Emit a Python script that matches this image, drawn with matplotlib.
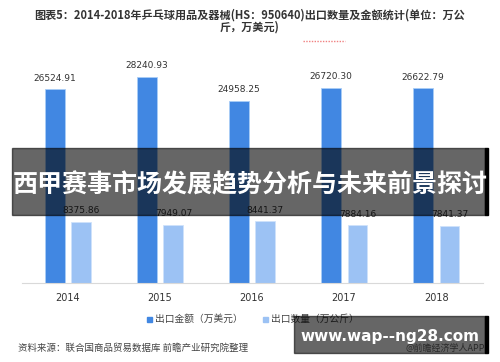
import matplotlib.pyplot as plt
from matplotlib.patches import Rectangle
import numpy as np

plt.rcParams['font.family'] = ['Noto Sans CJK SC', 'DejaVu Sans']

# data
years = ['2014', '2015', '2016', '2017', '2018']
export_value = [26524.91, 28240.93, 24958.25, 26720.30, 26622.79]   # 万美元
export_volume = [8375.86, 7949.07, 8441.37, 7884.16, 7841.37]      # 万公斤
value_labels = ['26524.91', '28240.93', '24958.25', '26720.30', '26622.79']
volume_labels = ['8375.86', '7949.07', '8441.37', '7884.16', '7841.37']

dark_blue = '#4187e2'
light_blue = '#9cc2f4'

fig = plt.figure(figsize=(5, 3.62), dpi=100)
ax = fig.add_axes([0.044, 0.218, 0.922, 0.63])

x = np.arange(len(years))
w = 0.215
ax.bar(x - 0.145, export_value, w, color=dark_blue, edgecolor='#a9cdf7', linewidth=0.6)
ax.bar(x + 0.145, export_volume, w, color=light_blue, edgecolor='#cfe2fb', linewidth=0.6)

for i in range(len(years)):
    ax.text(x[i] - 0.145, export_value[i] + 900, value_labels[i], ha='center', va='bottom',
            fontsize=6.5, color='#333333', family=['DejaVu Sans'])
    ax.text(x[i] + 0.145, export_volume[i] + 900, volume_labels[i], ha='center', va='bottom',
            fontsize=6.5, color='#333333', family=['DejaVu Sans'])

ax.set_xlim(-0.5, 4.51)
ax.set_ylim(0, 31200)
ax.set_xticks(x)
ax.set_xticklabels(years, fontsize=7, color='#333333', family=['DejaVu Sans'])
ax.tick_params(axis='x', length=0, pad=7)
ax.set_yticks([])
for s in ['top', 'right', 'left']:
    ax.spines[s].set_visible(False)
ax.spines['bottom'].set_color('#d9d9d9')
ax.spines['bottom'].set_linewidth(0.8)

# title
fig.text(0.5, 1 - 15 / 362, '图表5：2014-2018年乒乓球用品及器械(HS：950640)出口数量及金额统计(单位：万公',
         ha='center', va='center', fontsize=8, fontweight='bold', color='#333333')
fig.text(0.5, 1 - 27 / 362, '斤，万美元)', ha='center', va='center', fontsize=8,
         fontweight='bold', color='#333333')
fig.add_artist(plt.Line2D([303 / 500, 345 / 500], [1 - 41 / 362, 1 - 41 / 362],
                          color='#f08080', lw=1, ls=(0, (1, 1))))

# legend
fig.patches.append(Rectangle((147 / 500, 1 - 322 / 362), 5 / 500, 5 / 362,
                             transform=fig.transFigure, color=dark_blue))
fig.text(155 / 500, 1 - 319 / 362, '出口金额（万美元）', va='center', fontsize=7, color='#444444')
fig.patches.append(Rectangle((263 / 500, 1 - 322 / 362), 5 / 500, 5 / 362,
                             transform=fig.transFigure, color=light_blue))
fig.text(271 / 500, 1 - 319 / 362, '出口数量（万公斤）', va='center', fontsize=7, color='#444444')

# source
fig.text(18 / 500, 1 - 348 / 362, '资料来源：联合国商品贸易数据库 前瞻产业研究院整理',
         va='center', fontsize=6.8, color='#444444')
fig.text(485 / 500, 1 - 348 / 362, '@前瞻经济学人APP', va='center', ha='right',
         fontsize=6.5, color='#666666')

# overlay banner
fig.patches.append(Rectangle((12 / 500, 1 - 215 / 362), 473 / 500, 67 / 362,
                             transform=fig.transFigure, color='black', alpha=0.6, zorder=5))
fig.patches.append(Rectangle((485 / 500, 1 - 215 / 362), 3 / 500, 67 / 362,
                             transform=fig.transFigure, color='black', zorder=5))
fig.text(250 / 500, 1 - 185 / 362, '西甲赛事市场发展趋势分析与未来前景探讨', ha='center', va='center',
         fontsize=18, fontweight='bold', color='white', zorder=6)

# bottom-right box
fig.patches.append(Rectangle((294 / 500, 1 - 353 / 362), 191 / 500, 37 / 362,
                             transform=fig.transFigure, color='black', alpha=0.6, zorder=5))
fig.patches.append(Rectangle((485 / 500, 1 - 353 / 362), 3 / 500, 37 / 362,
                             transform=fig.transFigure, color='black', zorder=5))
fig.text(390 / 500, 1 - 336 / 362, 'www.wap--ng28.com', ha='center', va='center',
         fontsize=11, fontweight='bold', color='white', family=['DejaVu Sans'], zorder=6)

fig.savefig('out.png', dpi=100)
